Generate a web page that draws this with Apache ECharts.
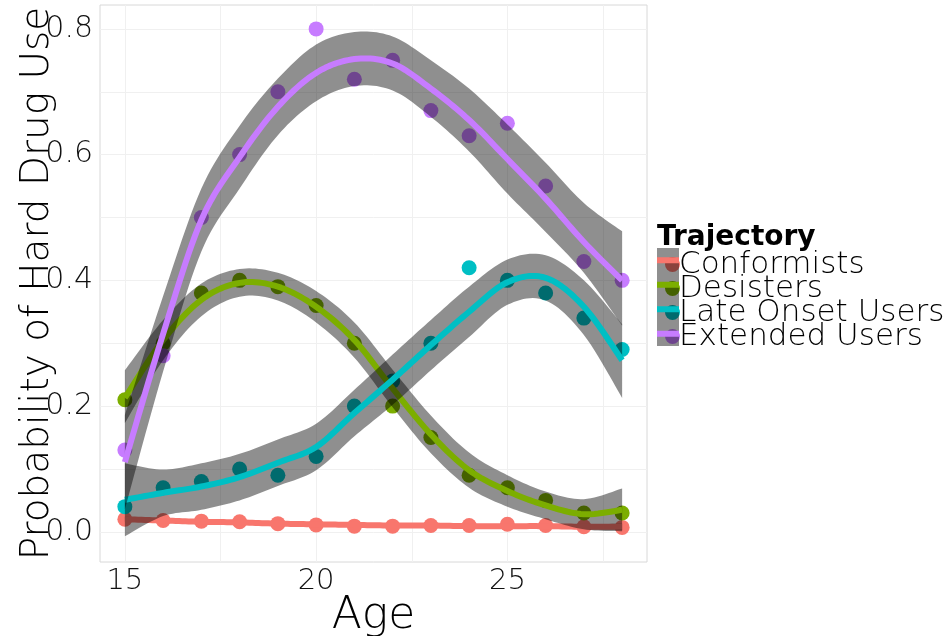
<!DOCTYPE html>
<html><head><meta charset="utf-8">
<script src="https://cdn.jsdelivr.net/npm/echarts@6/dist/echarts.min.js"></script>
<style>html,body{margin:0;padding:0;background:#fff}#c{width:948px;height:636px}</style>
</head><body><div id="c"></div>
<script>
// ---- data ----
const ages = [15,16,17,18,19,20,21,22,23,24,25,26,27,28];
const groupNames = ['Conformists','Desisters','Late Onset Users','Extended Users'];

// observed points
const conformistsPts = [0.020,0.018,0.017,0.016,0.013,0.011,0.009,0.009,0.010,0.010,0.012,0.010,0.008,0.007];
const desistersPts   = [0.21,0.30,0.38,0.40,0.39,0.36,0.30,0.20,0.15,0.09,0.07,0.05,0.03,0.03];
const lateOnsetPts   = [0.04,0.07,0.08,0.10,0.09,0.12,0.20,0.24,0.30,0.42,0.40,0.38,0.34,0.29];
const extendedPts    = [0.13,0.28,0.50,0.60,0.70,0.80,0.72,0.75,0.67,0.63,0.65,0.55,0.43,0.40];

// smoothed fits
const conformistsFit = [0.020,0.018,0.016,0.015,0.013,0.012,0.011,0.010,0.010,0.009,0.009,0.009,0.008,0.008];
const desistersFit   = [0.213,0.305,0.369,0.396,0.390,0.358,0.305,0.228,0.155,0.098,0.065,0.042,0.028,0.035];
const lateOnsetFit   = [0.051,0.062,0.072,0.087,0.110,0.135,0.189,0.242,0.297,0.350,0.397,0.404,0.358,0.273];
const extendedFit    = [0.111,0.315,0.496,0.596,0.676,0.730,0.752,0.745,0.705,0.655,0.593,0.530,0.461,0.400];

// confidence bands (lower / upper)
const conformistsLow  = [0.016,0.015,0.013,0.012,0.010,0.009,0.008,0.007,0.007,0.006,0.006,0.006,0.004,0.003];
const conformistsHigh = [0.024,0.021,0.019,0.018,0.016,0.015,0.014,0.013,0.013,0.012,0.012,0.012,0.012,0.013];
const desistersLow    = [0.173,0.273,0.343,0.374,0.368,0.333,0.277,0.198,0.125,0.070,0.040,0.020,0.004,0.001];
const desistersHigh   = [0.257,0.337,0.395,0.418,0.412,0.383,0.333,0.258,0.185,0.126,0.090,0.064,0.052,0.069];
const lateOnsetLow    = [-0.007,0.025,0.035,0.050,0.073,0.098,0.152,0.202,0.257,0.310,0.361,0.368,0.313,0.213];
const lateOnsetHigh   = [0.109,0.099,0.109,0.124,0.147,0.172,0.226,0.282,0.337,0.390,0.433,0.440,0.400,0.330];
const extendedLow     = [0.036,0.255,0.446,0.546,0.631,0.685,0.709,0.702,0.660,0.605,0.538,0.477,0.412,0.328];
const extendedHigh    = [0.186,0.375,0.546,0.646,0.721,0.775,0.795,0.788,0.750,0.705,0.648,0.587,0.523,0.478];

// axis ticks
const xTickLabels = [15,20,25];
const xGridValues = [15,17.5,20,22.5,25,27.5];
const yTickLabels = [0,0.2,0.4,0.6,0.8];
const yGridValues = [0,0.1,0.2,0.3,0.4,0.5,0.6,0.7,0.8];

// ---- chart ----
const colors = ['#F8766D','#7CAE00','#00BFC4','#C77CFF'];
const BAND = 'rgba(0,0,0,0.44)';
const FONT = '"DejaVu Sans", Lato, sans-serif';
const FW = 200;
const pts  = [conformistsPts, desistersPts, lateOnsetPts, extendedPts];
const fits = [conformistsFit, desistersFit, lateOnsetFit, extendedFit];
const lows = [conformistsLow, desistersLow, lateOnsetLow, extendedLow];
const highs= [conformistsHigh, desistersHigh, lateOnsetHigh, extendedHigh];

// Catmull-Rom sampling of pixel points (rendering only)
function spline(p) {
  const out = [];
  const n = p.length, steps = 12;
  for (let i = 0; i < n - 1; i++) {
    const p0 = p[i - 1] || p[i], p1 = p[i], p2 = p[i + 1], p3 = p[i + 2] || p[i + 1];
    const c1 = [p1[0] + (p2[0] - p0[0]) / 6, p1[1] + (p2[1] - p0[1]) / 6];
    const c2 = [p2[0] - (p3[0] - p1[0]) / 6, p2[1] - (p3[1] - p1[1]) / 6];
    for (let s = 0; s < steps; s++) {
      const t = s / steps, u = 1 - t;
      out.push([
        u*u*u*p1[0] + 3*u*u*t*c1[0] + 3*u*t*t*c2[0] + t*t*t*p2[0],
        u*u*u*p1[1] + 3*u*u*t*c1[1] + 3*u*t*t*c2[1] + t*t*t*p2[1]
      ]);
    }
  }
  out.push(p[n - 1]);
  return out;
}

const series = [];
groupNames.forEach((name,g)=>{
  series.push({
    name: name, type:'scatter', data: ages.map((a,i)=>[a, pts[g][i]]),
    symbolSize: 15, itemStyle:{color: colors[g], opacity:1}, silent:true, z:1
  });
});
groupNames.forEach((name,g)=>{
  series.push({
    name: name+' band', type:'custom', silent:true, z:2 + 2*g,
    data: ages.map((a,i)=>[a, lows[g][i], highs[g][i]]),
    encode:{x:0, y:[1,2]},
    renderItem:(params, api)=>{
      if (params.dataIndexInside !== 0) return null;
      const n = params.dataInsideLength, up = [], lo = [];
      for (let j = 0; j < n; j++) {
        up.push(api.coord([api.value(0, j), api.value(2, j)]));
        lo.push(api.coord([api.value(0, j), api.value(1, j)]));
      }
      const poly = spline(up).concat(spline(lo.reverse()));
      return {type:'polygon', shape:{points: poly}, style:{fill:BAND, stroke:null}};
    }
  });
  series.push({
    name: name+' fit', type:'custom', silent:true, z:3 + 2*g,
    data: ages.map((a,i)=>[a, fits[g][i]]),
    encode:{x:0, y:1},
    renderItem:(params, api)=>{
      if (params.dataIndexInside !== 0) return null;
      const n = params.dataInsideLength, p = [];
      for (let j = 0; j < n; j++) p.push(api.coord([api.value(0, j), api.value(1, j)]));
      return {type:'polyline', shape:{points: spline(p)},
        style:{fill:null, stroke: colors[g], lineWidth:6, lineJoin:'round', lineCap:'butt'}};
    }
  });
});

// legend key overlays (grey smooth-key box with coloured line)
const keyTop = 248, keyPitch = 24.5;
const keyGraphics = [{ type:'rect', left:657, top:keyTop, z:20,
  shape:{width:22, height:4*keyPitch}, style:{fill:BAND} }];
colors.forEach((c,g)=>{
  keyGraphics.push({ type:'rect', left:657, top:keyTop + keyPitch*g + keyPitch/2 - 3, z:21,
    shape:{width:22, height:6}, style:{fill:c} });
});

const chart = echarts.init(document.getElementById('c'), null, {renderer:'canvas'});
chart.setOption({
  animation:false,
  backgroundColor:'#fff',
  textStyle:{fontFamily: FONT, fontWeight: FW},
  title:{ text:'Trajectory', left:652, top:219,
    textStyle:{fontFamily:FONT, fontSize:28, fontWeight:'bold', color:'#000'} },
  legend:{
    orient:'vertical', left:660, top:244, itemGap:-7, itemWidth:15, itemHeight:15,
    icon:'circle', data: groupNames, selectedMode:false, z:4,
    textStyle:{fontFamily:FONT, fontWeight:FW, fontSize:31, color:'#000', padding:[0,0,0,-6]}
  },
  graphic: keyGraphics,
  grid:{ left:100, right:301, top:5, bottom:74, show:true, borderColor:'#d8d8d8', borderWidth:1,
    backgroundColor:'#fff', outerBoundsMode:'none', containLabel:false },
  xAxis:{
    type:'value', min:14.35, max:28.65,
    name:'Age', nameLocation:'middle', nameGap:33, nameMoveOverlap:false,
    nameTextStyle:{fontFamily:FONT, fontWeight:FW, fontSize:44, color:'#000'},
    axisLine:{show:false},
    axisTick:{show:false, customValues: xGridValues},
    axisLabel:{customValues: xTickLabels, fontSize:29, fontWeight:FW, color:'#111', margin:5, fontFamily:FONT},
    splitLine:{show:true, lineStyle:{color:'#f0f0f0', width:1}}
  },
  yAxis:{
    type:'value', min:-0.048, max:0.838,
    name:'Probability of Hard Drug Use', nameLocation:'middle', nameGap:43, nameMoveOverlap:false,
    nameTextStyle:{fontFamily:FONT, fontWeight:FW, fontSize:39, color:'#000'},
    axisLine:{show:false},
    axisTick:{show:false, customValues: yGridValues},
    axisLabel:{customValues: yTickLabels, fontSize:30, fontWeight:FW, color:'#111', margin:7, fontFamily:FONT,
      formatter: v => Number(v).toFixed(1)},
    splitLine:{show:true, lineStyle:{color:'#f0f0f0', width:1}}
  },
  series: series
});
</script></body></html>
